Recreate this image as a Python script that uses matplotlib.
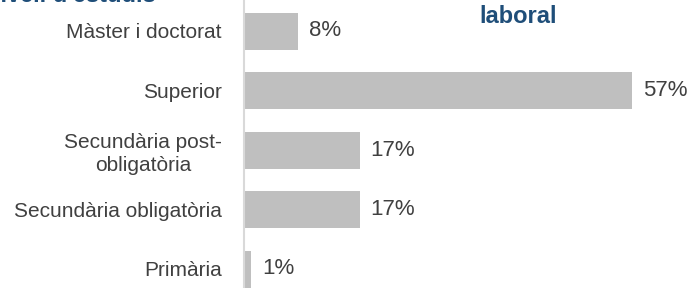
import matplotlib.pyplot as plt

categories = ["Màster i doctorat", "Superior", "Secundària post-\nobligatòria",
              "Secundària obligatòria", "Primària"]
values = [8, 57, 17, 17, 1]
value_labels = ["8%", "57%", "17%", "17%", "1%"]

W, H, DPI = 691, 288, 100
plt.rcParams['font.family'] = ['Liberation Sans', 'DejaVu Sans']

fig = plt.figure(figsize=(W / DPI, H / DPI), dpi=DPI)
ax_left = 244 / W
ax = fig.add_axes([ax_left, 0, 1 - ax_left, 1])

px_per_unit = 6.8
ax.set_xlim(0, (W - 244) / px_per_unit)
step = 59.5
ax.set_ylim((H - 31) / step, -31 / step)

pos = list(range(len(categories)))
ax.barh(pos, values, height=37 / step, color="#BFBFBF")

for p, v, lab in zip(pos, values, value_labels):
    ax.annotate(lab, (v, p), xytext=(11, 0), textcoords="offset pixels",
                ha="left", va="center", fontsize=16, color="#404040")

ax.set_yticks(pos)
ax.set_yticklabels(categories, fontsize=15, color="#404040", linespacing=1.25)
for t in ax.get_yticklabels():
    t.set_multialignment("center")
ax.tick_params(axis="y", length=0, pad=16)
ax.set_xticks([])

for s in ["top", "right", "bottom"]:
    ax.spines[s].set_visible(False)
ax.spines["left"].set_color("#D9D9D9")
ax.spines["left"].set_linewidth(1.5)

# title lines cut off by the crop at the top
fig.text(-14 / W, 1 - 1.5 / H, "nivell d'estudis", ha="left", va="baseline",
         fontsize=17, fontweight="bold", color="#1F4E79")
fig.text(518 / W, 1 - 23 / H, "laboral", ha="center", va="baseline",
         fontsize=17, fontweight="bold", color="#1F4E79")

fig.savefig("out.png", dpi=DPI)
